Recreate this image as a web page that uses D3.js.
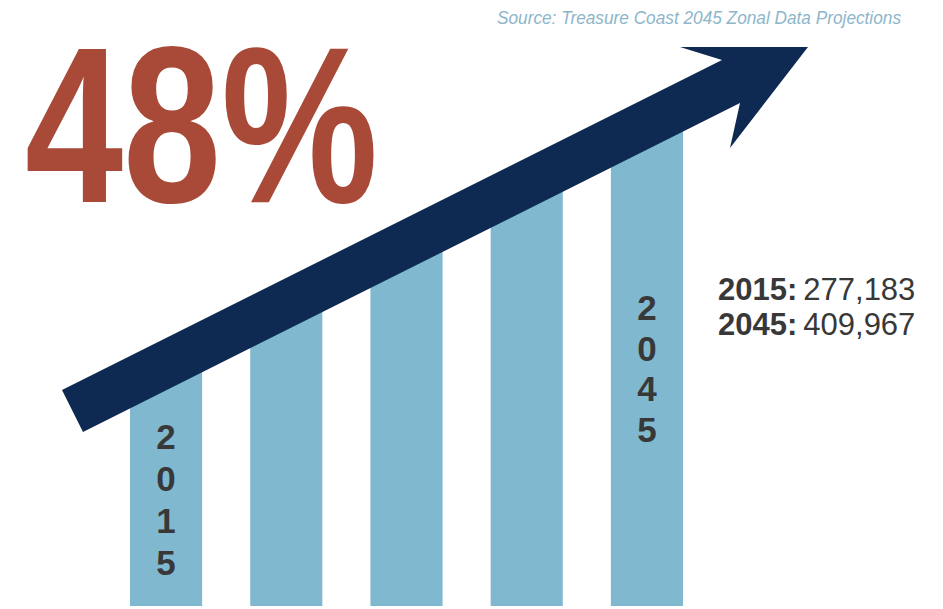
<!DOCTYPE html>
<html>
<head>
<meta charset="utf-8">
<script src="https://cdn.jsdelivr.net/npm/d3@7"></script>
<style>
  html, body { margin: 0; padding: 0; background: #fff; }
  svg { display: block; }
</style>
</head>
<body>
<script>
// data
const categories = ["2015", "b", "c", "d", "2045"]
const barValues = [50, 62.5, 75, 87.5, 100]      // relative bar heights
const barLabels = ["2015", "", "", "", "2045"]
const headline = "48%"
const summaryYears = ["2015:", "2045:"]
const summaryValues = ["277,183", "409,967"]
const sourceNote = "Source: Treasure Coast 2045 Zonal Data Projections"

const width = 943, height = 609
const barColor = "#80b8cf"
const arrowColor = "#0f2a52"
const accent = "#a84a37"
const ink = "#383838"

const svg = d3.select("body")
    .append("svg")
    .attr("width", width)
    .attr("height", height)

const xScale = d3.scaleBand()
    .domain(categories)
    .range([130, 683])
    .paddingInner(0.4)
    .paddingOuter(0)

const yScale = d3.scaleLinear()
    .domain([0, 100])
    .range([606, 124])

// bars
svg.selectAll("rect.bar")
    .data(barValues)
    .enter()
    .append("rect")
    .attr("class", "bar")
    .attr("x", (d, i) => xScale(categories[i]))
    .attr("y", d => yScale(d))
    .attr("width", xScale.bandwidth())
    .attr("height", d => yScale(0) - yScale(d))
    .attr("fill", barColor)

// vertical stacked year labels inside bars
const labelLayout = {0: {y: 449, step: 42}, 4: {y: 320, step: 40.5}}
barLabels.forEach((lab, i) => {
    if (!lab) return
    const lay = labelLayout[i]
    const cx = xScale(categories[i]) + xScale.bandwidth() / 2
    svg.append("g")
        .selectAll("text")
        .data(lab.split(""))
        .enter()
        .append("text")
        .attr("x", cx)
        .attr("y", (d, j) => lay.y + j * lay.step)
        .attr("text-anchor", "middle")
        .attr("font-family", "Liberation Sans, Arial, sans-serif")
        .attr("font-weight", "bold")
        .attr("font-size", 35)
        .attr("fill", ink)
        .text(d => d)
})

// trend arrow
const arrowPts = [
    [62, 390], [722, 60], [680, 47], [808, 47],
    [730, 148], [740, 103], [83, 432]
]
svg.append("path")
    .attr("d", d3.line()(arrowPts) + "Z")
    .attr("fill", arrowColor)

// headline
svg.append("text")
    .attr("x", 25)
    .attr("y", 202)
    .attr("font-family", "Liberation Sans, Arial, sans-serif")
    .attr("font-weight", "bold")
    .attr("font-size", 223)
    .attr("textLength", 353)
    .attr("lengthAdjust", "spacingAndGlyphs")
    .attr("fill", accent)
    .text(headline)

// summary
summaryYears.forEach((yr, i) => {
    const t = svg.append("text")
        .attr("x", 718)
        .attr("y", 300 + i * 35)
        .attr("font-family", "Liberation Sans, Arial, sans-serif")
        .attr("font-size", 31)
        .attr("fill", ink)
    t.append("tspan").attr("font-weight", "bold").text(yr)
    t.append("tspan").attr("dx", 6).text(summaryValues[i])
})

// source note
svg.append("text")
    .attr("x", 497)
    .attr("y", 24)
    .attr("font-family", "Liberation Sans, Arial, sans-serif")
    .attr("font-style", "italic")
    .attr("font-size", 19)
    .attr("textLength", 404)
    .attr("lengthAdjust", "spacingAndGlyphs")
    .attr("fill", "#8db6cb")
    .text(sourceNote)
</script>
</body>
</html>
